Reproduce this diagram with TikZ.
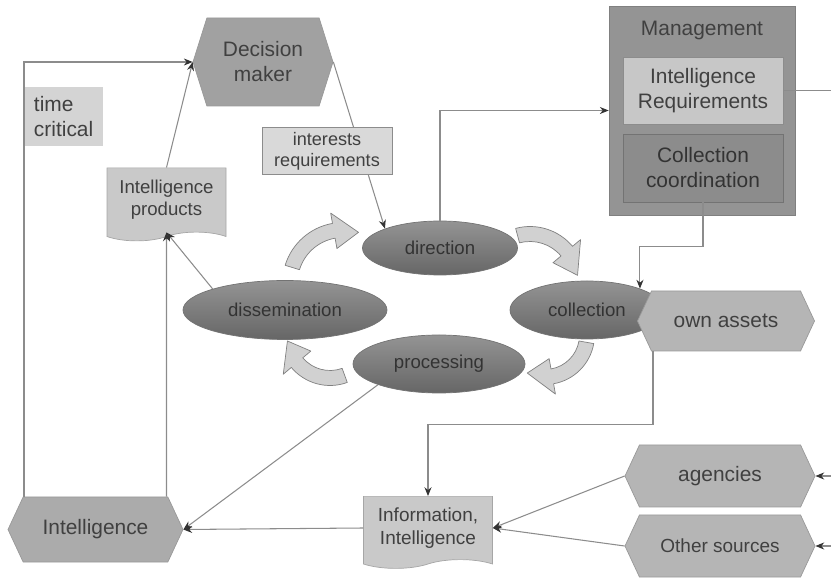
\documentclass[tikz,border=0pt]{standalone}
\usepackage{fontspec}
\setmainfont{Liberation Sans}
\usetikzlibrary{arrows.meta,calc,shapes.geometric,shapes.symbols}
\tikzset{
>={Stealth[length=5pt,width=4pt,color=black!80]},
hex node/.style={signal,signal to=east and west,signal pointer angle=130,draw=black!40,fill=black!29,text=black!75,inner sep=0pt,align=center},
doc node/.style={tape,tape bend top=none,draw=black!35,fill=black!21,text=black!75,inner sep=0pt,align=center},
box node/.style={rectangle,draw=black!45,text=black!75,inner sep=0pt,align=center},
ring node/.style={ellipse,draw=black!55,top color=black!42,bottom color=black!60,text=black!80,inner sep=0pt,font=\fontsize{10.6}{12.7}\selectfont},
link/.style={->,draw=black!45,semithick},
bogen/.style={draw=black!50,fill=black!18,line join=round}}
% curved block arrow: centre, start angle, head base angle, tip angle, radius
\newcommand{\kreispfeil}[5]{%
  \filldraw[bogen] ($(#1)+(#2:{#5+7.5})$) arc[start angle=#2,end angle=#3,radius={(#5+7.5)*0.2mm}]
    -- ($(#1)+(#3:{#5+18})$) -- ($(#1)+(#4:#5)$) -- ($(#1)+(#3:{#5-18})$)
    -- ($(#1)+(#3:{#5-7.5})$) arc[start angle=#3,end angle=#2,radius={(#5-7.5)*0.2mm}] -- cycle;}

\begin{document}
\begin{tikzpicture}[x=0.2mm,y=0.2mm,font=\fontsize{11.9}{14.2}\selectfont]
\useasboundingbox (0,0) rectangle (831,581);

      \node[hex node,fill=black!37,minimum width=2.8cm,minimum height=1.76cm,signal pointer angle=145] (decision) at (263,519) {Decision\\maker};
      \node[box node,draw=none,fill=black!17,text width=1.2cm,inner xsep=0.18cm,minimum height=1.18cm,align=left] (timecrit) at (64,464) {time\\critical};
      \node[doc node,minimum width=2.38cm,minimum height=1.46cm,font=\fontsize{10.6}{12.7}\selectfont] (products) at (166.5,381) {Intelligence\\products};

      \node[box node,fill=black!42,draw=black!50,minimum width=3.72cm,minimum height=4.18cm] (mgmt) at (702,470.5) {};
      \node[text=black!75] (mgmttitle) at (702,551) {Management};
      \node[box node,fill=black!22,minimum width=3.2cm,minimum height=1.34cm] (ireq) at (703,490.5) {Intelligence\\Requirements};
      \node[box node,fill=black!45,draw=black!55,text=black!80,minimum width=3.2cm,minimum height=1.36cm] (coord) at (703,413) {Collection\\coordination};

      \node[ring node,minimum width=3.1cm,minimum height=1.08cm] (direction) at (440,333) {direction};
      \node[ring node,minimum width=4.08cm,minimum height=1.18cm] (dissemination) at (285,271) {dissemination};
      \node[ring node,minimum width=3.08cm,minimum height=1.16cm] (collection) at (587,271) {collection};
      \node[ring node,minimum width=3.44cm,minimum height=1.16cm] (processing) at (439,217) {processing};

      \node[hex node,minimum width=3.54cm,minimum height=1.2cm] (ownassets) at (726,260) {own assets};
      \node[hex node,minimum width=3.8cm,minimum height=1.24cm] (agencies) at (720,105) {agencies};
      \node[hex node,minimum width=3.8cm,minimum height=1.24cm,font=\fontsize{10.8}{13}\selectfont] (other) at (720,35) {Other sources};
      \node[doc node,minimum width=2.58cm,minimum height=1.44cm,font=\fontsize{10.8}{13}\selectfont] (info) at (428,53) {Information,\\Intelligence};
      \node[hex node,fill=black!33,minimum width=3.5cm,minimum height=1.3cm] (intel) at (95.5,51.5) {Intelligence};

      \kreispfeil{343,298}{163}{100}{73}{53}
      \kreispfeil{530,299}{105}{40}{8}{48}
      \kreispfeil{545,246}{-10}{-80}{-115}{42}
      \kreispfeil{330,246}{290}{220}{188}{43}

      \coordinate (rim) at (831,0);
      \draw[link] ([xshift=-1.43cm]intel.north) |- (decision.west);
      \draw[link] ([xshift=1.42cm]intel.north) -- (products.south);
      \draw[link] (dissemination.north west) -- (products.south);
      \draw[link] (products.north) -- (decision.west);
      \draw[link] (decision.east) -- (direction.north west);
      \draw[link] (direction.north) |- (mgmt.west);
      \draw[link] (coord.south) -- ++(0,-0.88cm) -| (collection.22);
      \draw[link] ([xshift=-1.46cm]ownassets.south) -- ++(0,-1.46cm) -| (info.north);
      \draw[link] (info.west) -- (intel.east);
      \draw[link] (processing.south west) -- (intel.east);
      \draw[link] (agencies.west) -- (info.east);
      \draw[link] (other.west) -- (info.east);
      \draw[link] (rim |- agencies.east) -- (agencies.east);
      \draw[link] (rim |- other.east) -- (other.east);
      \draw[draw=black!45,semithick] (ireq.east) -- (rim |- ireq.east);

      \node[box node,fill=black!15,minimum width=2.6cm,minimum height=0.94cm,font=\fontsize{10.3}{12}\selectfont] (interests) at (327,430) {interests\\requirements};
\end{tikzpicture}
\end{document}
